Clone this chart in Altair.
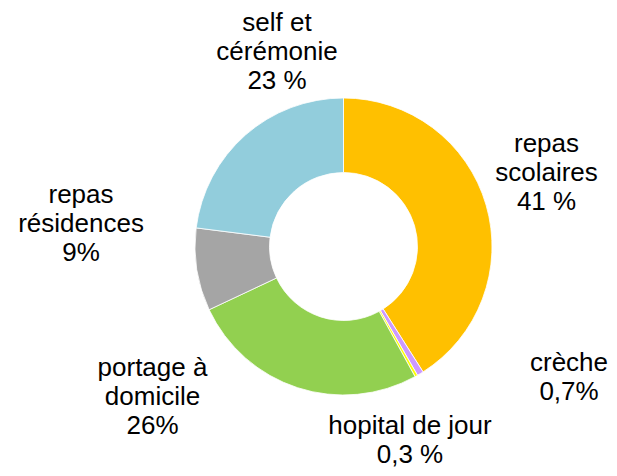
import altair as alt
import pandas as pd

# data
categories = ["repas scolaires", "crèche", "hopital de jour", "portage à domicile", "repas résidences", "self et cérémonie"]
shares = [41, 0.7, 0.3, 26, 9, 23]
label_texts = ["repas\nscolaires\n41 %", "crèche\n0,7%", "hopital de jour\n0,3 %",
               "portage à\ndomicile\n26%", "repas\nrésidences\n9%", "self et\ncérémonie\n23 %"]
colors = ["#FFC000", "#CC99FF", "#FFFF00", "#92D050", "#A5A5A5", "#92CDDC"]

# label layout (plot-area pixels, first line of each label)
label_x = [538.5, 561, 402, 144.5, 73, 269]
label_y = [136, 354.5, 418, 359.5, 187, 15]

CX, CY = 335.5, 238.5

df = pd.DataFrame({
    "cat": categories,
    "share": shares,
    "order": list(range(len(categories))),
    "label": label_texts,
    "lx": label_x,
    "ly": label_y,
})

arcs = alt.Chart(df).mark_arc(
    outerRadius=148.5, innerRadius=74, x=CX, y=CY, stroke="white", strokeWidth=0.8
).encode(
    theta=alt.Theta("share:Q", stack=True),
    order=alt.Order("order:Q"),
    color=alt.Color("cat:N", scale=alt.Scale(domain=categories, range=colors), legend=None),
)

labels = alt.Chart(df).mark_text(
    font="Liberation Sans", fontSize=26, lineBreak="\n", lineHeight=29,
    align="center", baseline="middle", color="black"
).encode(
    x=alt.X("lx:Q", scale=None),
    y=alt.Y("ly:Q", scale=None),
    text="label:N",
)

chart = alt.layer(arcs, labels).properties(
    width=601, height=460, padding=0, autosize="none"
).configure_view(stroke=None)

chart.save("out.html", embed_options={"renderer": "svg", "actions": False})
